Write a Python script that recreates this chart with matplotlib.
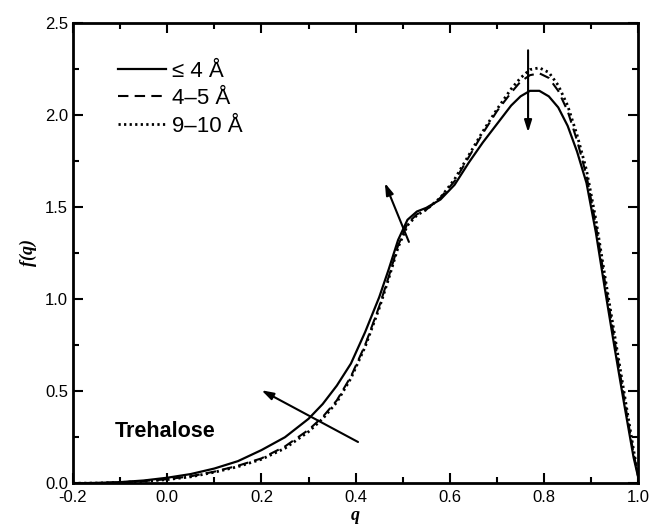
import matplotlib
matplotlib.use("Agg")
import matplotlib.pyplot as plt
from matplotlib.ticker import MultipleLocator, FormatStrFormatter

plt.rcParams['font.family'] = ['Liberation Sans', 'DejaVu Sans']

q = [-0.2, -0.15, -0.1, -0.05, 0.0, 0.05, 0.1, 0.15, 0.2, 0.25, 0.3, 0.33, 0.36, 0.39, 0.42,
     0.45, 0.47, 0.49, 0.51, 0.53, 0.55, 0.58, 0.61, 0.64, 0.67, 0.70, 0.73, 0.75, 0.77, 0.79,
     0.81, 0.83, 0.85, 0.87, 0.89, 0.91, 0.93, 0.95, 0.97, 0.99, 1.0]

f_le4 = [0.0, 0.002, 0.006, 0.015, 0.03, 0.05, 0.08, 0.12, 0.18, 0.25, 0.35, 0.43, 0.53, 0.65, 0.82,
         1.01, 1.16, 1.32, 1.43, 1.475, 1.495, 1.54, 1.62, 1.74, 1.85, 1.95, 2.05, 2.10, 2.13, 2.13,
         2.10, 2.04, 1.94, 1.80, 1.63, 1.36, 1.04, 0.73, 0.43, 0.14, 0.03]

f_4_5 = [0.0, 0.001, 0.005, 0.012, 0.022, 0.038, 0.063, 0.095, 0.135, 0.20, 0.29, 0.36, 0.45, 0.58, 0.75,
         0.96, 1.12, 1.29, 1.41, 1.46, 1.485, 1.55, 1.64, 1.77, 1.90, 2.02, 2.12, 2.18, 2.215, 2.225,
         2.20, 2.13, 2.02, 1.86, 1.67, 1.40, 1.08, 0.77, 0.46, 0.16, 0.04]

f_9_10 = [0.0, 0.001, 0.004, 0.01, 0.02, 0.035, 0.06, 0.09, 0.13, 0.19, 0.28, 0.35, 0.44, 0.57, 0.74,
          0.95, 1.11, 1.28, 1.40, 1.455, 1.485, 1.55, 1.65, 1.78, 1.91, 2.03, 2.14, 2.20, 2.245, 2.255,
          2.23, 2.16, 2.05, 1.89, 1.70, 1.43, 1.11, 0.80, 0.49, 0.18, 0.04]

labels = ['\u2264 4 \u00c5', '4\u20135 \u00c5', '9\u201310 \u00c5']

fig = plt.figure(figsize=(6.52, 5.27), dpi=100)
ax = fig.add_axes([0.112, 0.083, 0.867, 0.874])

ax.plot(q, f_le4, color='black', lw=1.6, linestyle='-', label=labels[0])
ax.plot(q, f_4_5, color='black', lw=1.5, linestyle=(0, (5, 3)), label=labels[1])
ax.plot(q, f_9_10, color='black', lw=2.0, linestyle=(0, (0.8, 1.2)), label=labels[2])

ax.set_xlim(-0.2, 1.0)
ax.set_ylim(0.0, 2.5)
ax.xaxis.set_major_locator(MultipleLocator(0.2))
ax.xaxis.set_minor_locator(MultipleLocator(0.1))
ax.yaxis.set_major_locator(MultipleLocator(0.5))
ax.yaxis.set_minor_locator(MultipleLocator(0.25))
ax.xaxis.set_major_formatter(FormatStrFormatter('%.1f'))
ax.yaxis.set_major_formatter(FormatStrFormatter('%.1f'))
ax.tick_params(which='both', direction='in', top=True, right=True, width=1.5, labelsize=12)
ax.tick_params(which='major', length=7)
ax.tick_params(which='minor', length=4)
ax.tick_params(axis='x', pad=5)
for s in ax.spines.values():
    s.set_linewidth(2.0)

ax.set_xlabel('q', fontfamily='Liberation Serif', fontstyle='italic', fontweight='bold',
              fontsize=13, labelpad=1)
ax.set_ylabel('f(q)', fontfamily='Liberation Serif', fontstyle='italic', fontweight='bold',
              fontsize=13, labelpad=6)

leg = ax.legend(loc='upper left', bbox_to_anchor=(0.064, 0.937), frameon=False, fontsize=16,
                handlelength=2.15, handletextpad=0.27, labelspacing=0.3, borderaxespad=0)

ax.text(-0.112, 0.28, 'Trehalose', fontsize=15.5, fontweight='bold', va='center', ha='left')

arrow_kw = dict(arrowstyle='-|>,head_length=0.7,head_width=0.22', color='black', lw=1.5,
                shrinkA=0, shrinkB=0)
ax.annotate('', xy=(0.20, 0.505), xytext=(0.405, 0.224), arrowprops=arrow_kw)
ax.annotate('', xy=(0.462, 1.63), xytext=(0.513, 1.31), arrowprops=arrow_kw)
ax.annotate('', xy=(0.766, 1.905), xytext=(0.766, 2.35), arrowprops=arrow_kw)

fig.savefig('out.png', dpi=100)
